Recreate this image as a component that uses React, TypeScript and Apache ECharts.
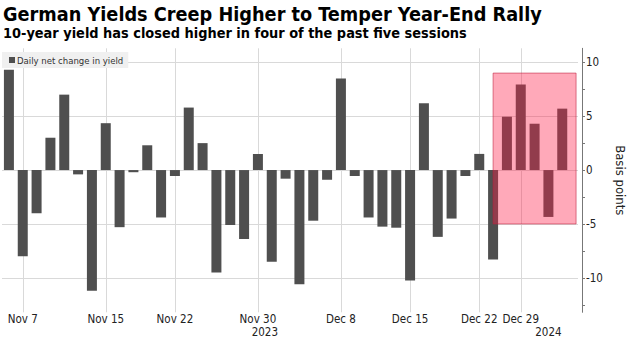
import React, { useEffect, useRef } from 'react';
import * as echarts from 'echarts';

// Trading days shown on the chart (last entry is an empty padding slot at the right edge)
const dates: string[] = [
  '2023-11-06', '2023-11-07', '2023-11-08', '2023-11-09', '2023-11-10',
  '2023-11-13', '2023-11-14', '2023-11-15', '2023-11-16', '2023-11-17',
  '2023-11-20', '2023-11-21', '2023-11-22', '2023-11-23', '2023-11-24',
  '2023-11-27', '2023-11-28', '2023-11-29', '2023-11-30', '2023-12-01',
  '2023-12-04', '2023-12-05', '2023-12-06', '2023-12-07', '2023-12-08',
  '2023-12-11', '2023-12-12', '2023-12-13', '2023-12-14', '2023-12-15',
  '2023-12-18', '2023-12-19', '2023-12-20', '2023-12-21', '2023-12-22',
  '2023-12-27', '2023-12-28', '2023-12-29',
  '2024-01-02', '2024-01-03', '2024-01-04', '2024-01-05',
];

// Daily net change in 10-year German yield, basis points
const changes: (number | null)[] = [
  9.3, -8.0, -4.0, 3.0, 7.0,
  -0.4, -11.2, 4.35, -5.3, -0.2,
  2.3, -4.4, -0.55, 5.8, 2.5,
  -9.5, -5.1, -6.4, 1.5, -8.5,
  -0.8, -10.6, -4.7, -0.9, 8.5,
  -0.55, -4.4, -5.25, -5.35, -10.25,
  6.2, -6.2, -4.5, -0.55, 1.5,
  -8.3, 4.95, 7.95,
  4.3, -4.35, 5.7, null,
];

const tickLabelDates: string[] = [
  '2023-11-07', '2023-11-15', '2023-11-22', '2023-11-30',
  '2023-12-08', '2023-12-15', '2023-12-22', '2023-12-29',
];
const yearLabels: string[] = ['2023', '2024'];
const yLabelValues: number[] = [-10, -5, 0, 5, 10];
const yTickValues: number[] = [-12.5, -10, -7.5, -5, -2.5, 0, 2.5, 5, 7.5, 10];
const yMin = -13.2;
const yMax = 11.3;

const highlightStart = '2023-12-27';
const highlightEnd = '2024-01-05';
const highlightLow = -5;
const highlightHigh = 9;

const monthNames = ['Jan', 'Feb', 'Mar', 'Apr', 'May', 'Jun', 'Jul', 'Aug', 'Sep', 'Oct', 'Nov', 'Dec'];

const seriesName = 'Daily net change in yield';
const titleText = 'German Yields Creep Higher to Temper Year-End Rally';
const subtitleText = '10-year yield has closed higher in four of the past five sessions';

const FONT = "'DejaVu Sans Condensed', 'DejaVu Sans', sans-serif";
const GRID_COLOR = '#d9d9d9';

// centre of each year's span of sessions with data
const yearCenters: number[] = yearLabels.map((yr) => {
  const idx = dates
    .map((d, i) => (d.startsWith(yr) && changes[i] !== null ? i : -1))
    .filter((i) => i >= 0);
  return (idx[0] + idx[idx.length - 1]) / 2;
});

const fmtDate = (v: string) => {
  const [, m, d] = v.split('-').map(Number);
  return `${monthNames[m - 1]} ${d}`;
};

const crisp = (v: number) => Math.round(v) + 0.5;

export default function App() {
  const ref = useRef<HTMLDivElement>(null);

  useEffect(() => {
    if (!ref.current) return;
    const chart = echarts.init(ref.current, null, { renderer: 'svg' });
    const option: any = {
      animation: false,
      backgroundColor: '#ffffff',
      title: {
        text: titleText,
        subtext: subtitleText,
        left: 3,
        top: 4,
        padding: 0,
        itemGap: 2,
        textStyle: { fontFamily: FONT, fontSize: 19.7, fontWeight: 'bold', color: '#000' },
        subtextStyle: { fontFamily: FONT, fontSize: 14.4, fontWeight: 'bold', color: '#000' },
      },
      legend: {
        data: [seriesName],
        left: 2,
        top: 52,
        z: 20,
        backgroundColor: '#f0f0f0',
        padding: [3, 5, 3, 7],
        icon: 'rect',
        itemWidth: 6,
        itemHeight: 6,
        selectedMode: false,
        textStyle: { fontFamily: FONT, fontSize: 9.5, color: '#333', padding: [0, 0, 0, -3] },
      },
      grid: {
        left: 2,
        right: 46,
        top: 48.3,
        bottom: 27.7,
        containLabel: false,
        outerBoundsMode: 'none',
      },
      xAxis: [
        {
          type: 'category',
          data: dates,
          boundaryGap: true,
          axisLine: { show: false },
          axisTick: { show: false },
          splitLine: { show: false },
          axisLabel: {
            interval: (_i: number, v: string) => tickLabelDates.includes(v),
            formatter: (v: string) => fmtDate(v),
            margin: 2,
            lineHeight: 10,
            fontFamily: FONT,
            fontSize: 11.5,
            color: '#222',
          },
        },
        {
          type: 'value',
          min: -0.5,
          max: dates.length - 0.5,
          position: 'bottom',
          offset: 12,
          axisLine: { show: false, onZero: false },
          axisTick: { show: false },
          splitLine: { show: false },
          axisLabel: {
            customValues: yearCenters,
            formatter: (v: number) => {
              const k = yearCenters.findIndex((c) => Math.abs(c - v) < 1e-6);
              return k >= 0 ? yearLabels[k] : '';
            },
            margin: 3,
            lineHeight: 10,
            fontFamily: FONT,
            fontSize: 11.5,
            color: '#222',
          },
        },
      ],
      yAxis: {
        type: 'value',
        position: 'right',
        min: yMin,
        max: yMax,
        offset: -1,
        axisLine: { show: true, onZero: false, lineStyle: { color: '#777', width: 1 } },
        axisTick: { show: true, inside: false, length: 3, customValues: yTickValues, lineStyle: { color: '#777' } },
        axisLabel: {
          customValues: yLabelValues,
          margin: 4,
          fontFamily: FONT,
          fontSize: 11.5,
          color: '#222',
        },
        splitLine: { show: false },
        name: 'Basis points',
        nameLocation: 'middle',
        nameRotate: -90,
        nameGap: 22,
        nameTextStyle: { fontFamily: FONT, fontSize: 13, color: '#222' },
      },
      series: [
        {
          type: 'custom',
          name: 'vgrid',
          xAxisIndex: 0,
          yAxisIndex: 0,
          z: 1,
          silent: true,
          data: tickLabelDates.map((d) => [dates.indexOf(d), 0]),
          encode: { x: 0, y: 1 },
          renderItem: (params: any, api: any) => {
            const cs = params.coordSys;
            const x = crisp(api.coord([api.value(0), 0])[0]);
            return {
              type: 'line',
              shape: { x1: x, y1: cs.y, x2: x, y2: cs.y + cs.height },
              style: { fill: null, stroke: GRID_COLOR, lineWidth: 1 },
            };
          },
        },
        {
          type: 'custom',
          name: 'hgrid',
          xAxisIndex: 0,
          yAxisIndex: 0,
          z: 1,
          silent: true,
          data: yLabelValues.map((v) => [0, v]),
          encode: { x: 0, y: 1 },
          renderItem: (params: any, api: any) => {
            const cs = params.coordSys;
            const y = crisp(api.coord([0, api.value(1)])[1]);
            return {
              type: 'line',
              shape: { x1: cs.x, y1: y, x2: cs.x + cs.width - 5, y2: y },
              style: { fill: null, stroke: GRID_COLOR, lineWidth: 1 },
            };
          },
        },
        {
          type: 'bar',
          name: seriesName,
          data: changes,
          xAxisIndex: 0,
          yAxisIndex: 0,
          z: 2,
          barWidth: 10,
          itemStyle: { color: '#4f4f4f' },
          silent: true,
        },
        {
          type: 'custom',
          name: 'highlight',
          xAxisIndex: 0,
          yAxisIndex: 0,
          z: 10,
          silent: true,
          data: [[dates.indexOf(highlightStart), dates.indexOf(highlightEnd), highlightHigh, highlightLow]],
          encode: { x: [0, 1], y: [2, 3] },
          renderItem: (_params: any, api: any) => {
            const p0 = api.coord([api.value(0), api.value(2)]);
            const p1 = api.coord([api.value(1), api.value(3)]);
            return {
              type: 'rect',
              shape: { x: p0[0], y: p0[1], width: p1[0] - p0[0], height: p1[1] - p0[1] },
              style: {
                fill: 'rgba(255, 30, 70, 0.38)',
                stroke: 'rgba(190, 30, 60, 0.55)',
                lineWidth: 1,
              },
            };
          },
        },
      ],
    };
    chart.setOption(option);
    return () => chart.dispose();
  }, []);

  return (
    <div
      ref={ref}
      style={{ position: 'fixed', left: 0, top: 0, width: 629, height: 340, background: '#fff' }}
    />
  );
}
